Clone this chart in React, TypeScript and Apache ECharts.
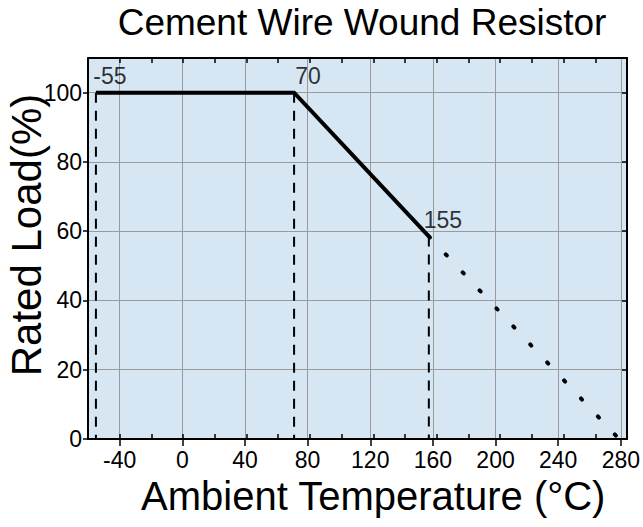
import React, { useEffect, useRef } from "react";
import * as echarts from "echarts";

// Derating curve break points
const tempBreaks = [-55, 70, 155];
const loadBreaks = [100, 100, 58.5];
const zeroLoadTemp = 275;
const zeroLoad = 0;

const xTickLabels = [-40, 0, 40, 80, 120, 160, 200, 240, 280];
const yTickLabels = [0, 20, 40, 60, 80, 100];

const titleText = "Cement Wire Wound Resistor";
const xName = "Ambient Temperature (°C)";
const yName = "Rated Load(%)";

const FONT = "'Liberation Sans', Arial, Helvetica, sans-serif";

export default function App() {
  const ref = useRef<HTMLDivElement>(null);
  useEffect(() => {
    if (!ref.current) return;
    const chart = echarts.init(ref.current, undefined, { renderer: "svg" });

    const W = 643;
    const gLeft = 88, gRight = 16, gTop = 58, gBottom = 88;
    const xMin = -60, xMax = 280, yMin = 0, yMax = 110;
    const plotW = W - gLeft - gRight;
    const plotH = 527 - gTop - gBottom;
    const xFirst = xTickLabels[0];
    const xLast = xTickLabels[xTickLabels.length - 1];
    const yLast = yTickLabels[yTickLabels.length - 1];
    const left2 = gLeft + ((xFirst - xMin) / (xMax - xMin)) * plotW;
    const top3 = gTop + ((yMax - yLast) / (yMax - yMin)) * plotH;

    const solid = tempBreaks.map((t, i) => [t, loadBreaks[i]]);
    const lastI = tempBreaks.length - 1;
    const dotted = [
      [tempBreaks[lastI], loadBreaks[lastI]],
      [zeroLoadTemp, zeroLoad],
    ];

    const dashedSeries = tempBreaks.map((t, i) => ({
      type: "line",
      xAxisIndex: 0,
      yAxisIndex: 0,
      data: [
        [t, loadBreaks[i]],
        [t, 0],
      ],
      symbol: "none",
      lineStyle: { color: "#000", width: 2, type: [10, 8] },
      z: 3,
    }));

    const innerTick = { show: true, inside: true, length: 5, lineStyle: { color: "#000", width: 1.5 } };
    const frameLine = { show: true, onZero: false, lineStyle: { color: "#000", width: 2 } };

    const option: any = {
      animation: false,
      backgroundColor: "#fff",
      textStyle: { fontFamily: FONT },
      graphic: [
        {
          type: "text",
          x: 362,
          y: 4,
          style: {
            text: titleText,
            fontSize: 37,
            fontFamily: FONT,
            fill: "#000",
            textAlign: "center",
            textVerticalAlign: "top",
          },
        },
        {
          type: "text",
          x: 26,
          y: 235,
          rotation: Math.PI / 2,
          style: {
            text: yName,
            fontSize: 42,
            fontFamily: FONT,
            fill: "#000",
            textAlign: "center",
            textVerticalAlign: "middle",
          },
        },
      ],
      grid: [
        {
          left: gLeft,
          right: gRight,
          top: gTop,
          bottom: gBottom,
          show: true,
          backgroundColor: "#d6e6f3",
          borderWidth: 0,
        },
        { left: left2, right: gRight, top: gTop, bottom: gBottom },
        { left: gLeft, right: gRight, top: top3, bottom: gBottom },
      ],
      xAxis: [
        {
          gridIndex: 0,
          type: "value",
          position: "bottom",
          min: xMin,
          max: xMax,
          interval: 20,
          axisLine: frameLine,
          axisTick: innerTick,
          axisLabel: { show: false },
          splitLine: { show: false },
          z: 5,
        },
        {
          gridIndex: 0,
          type: "value",
          position: "top",
          min: xMin,
          max: xMax,
          interval: 20,
          axisLine: frameLine,
          axisTick: innerTick,
          axisLabel: { show: false },
          splitLine: { show: false },
          z: 5,
        },
        {
          gridIndex: 1,
          type: "value",
          position: "bottom",
          min: xFirst,
          max: xLast,
          interval: 40,
          name: xName,
          nameLocation: "middle",
          nameGap: 32,
          nameTextStyle: { fontSize: 40, color: "#000", fontFamily: FONT, padding: [0, 0, 0, 6] },
          axisLine: { show: false, onZero: false },
          axisTick: { show: true, inside: false, length: 7, lineStyle: { color: "#000", width: 1.5 } },
          axisLabel: { show: true, fontSize: 23, color: "#000", margin: 9, fontFamily: FONT },
          splitLine: { show: true, lineStyle: { color: "#9a9a9a", width: 1 } },
        },
        {
          gridIndex: 2,
          type: "value",
          show: false,
          min: xMin,
          max: xMax,
          axisLine: { show: false, onZero: false },
        },
      ],
      yAxis: [
        {
          gridIndex: 0,
          type: "value",
          position: "left",
          min: yMin,
          max: yMax,
          interval: 20,
          axisLine: frameLine,
          axisTick: { show: false },
          axisLabel: { show: false },
          splitLine: { show: false },
          z: 5,
        },
        {
          gridIndex: 0,
          type: "value",
          position: "right",
          min: yMin,
          max: yMax,
          interval: 20,
          axisLine: frameLine,
          axisTick: innerTick,
          axisLabel: { show: false },
          splitLine: { show: false },
          z: 5,
        },
        {
          gridIndex: 1,
          type: "value",
          show: false,
          min: yMin,
          max: yMax,
          axisLine: { show: false, onZero: false },
        },
        {
          gridIndex: 2,
          type: "value",
          position: "left",
          min: yTickLabels[0],
          max: yLast,
          interval: 20,
          axisLine: { show: false, onZero: false },
          axisTick: { show: true, inside: false, length: 5, lineStyle: { color: "#000", width: 1.5 } },
          axisLabel: { show: true, fontSize: 23, color: "#000", margin: 6, fontFamily: FONT },
          splitLine: { show: true, lineStyle: { color: "#9a9a9a", width: 1 } },
        },
      ],
      series: [
        {
          type: "line",
          xAxisIndex: 0,
          yAxisIndex: 0,
          data: solid,
          symbol: "none",
          lineStyle: { color: "#000", width: 4, join: "miter" },
          z: 4,
        },
        {
          type: "line",
          xAxisIndex: 0,
          yAxisIndex: 0,
          data: dotted,
          symbol: "none",
          clip: false,
          lineStyle: { color: "#000", width: 4, type: [1.5, 23.2], cap: "round" },
          z: 6,
        },
        ...dashedSeries,
        {
          type: "scatter",
          xAxisIndex: 0,
          yAxisIndex: 0,
          data: solid,
          symbolSize: 0,
          label: {
            show: true,
            position: "top",
            distance: 5,
            offset: [14, 0],
            fontSize: 23,
            color: "#000",
            fontFamily: FONT,
            formatter: (p: any) => String(p.value[0]),
          },
          z: 6,
        },
      ],
    };

    chart.setOption(option);
    return () => chart.dispose();
  }, []);

  return (
    <div
      ref={ref}
      style={{ position: "fixed", left: 0, top: 0, width: 643, height: 527 }}
    />
  );
}
